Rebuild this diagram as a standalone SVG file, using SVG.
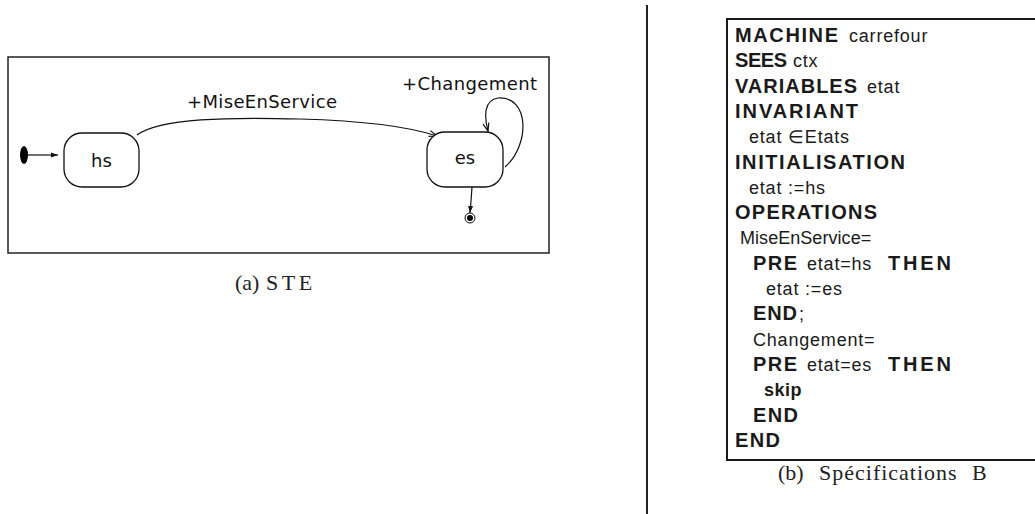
<svg xmlns="http://www.w3.org/2000/svg" width="1035" height="514" viewBox="0 0 1035 514">
<style>
.frame{fill:none;stroke:#222;stroke-width:1.5}
.node{fill:#fff;stroke:#111;stroke-width:1.3}
.lbl{font-family:"DejaVu Sans",sans-serif;font-size:18px;fill:#111}
.edge{fill:none;stroke:#111;stroke-width:1.2}
.cap{font-family:"Liberation Serif",serif;font-size:22px;fill:#222}
.kw{font-family:"Liberation Sans",sans-serif;font-size:20px;font-weight:bold;fill:#1a1a1a}
.id{font-family:"Liberation Sans",sans-serif;font-size:18px;letter-spacing:0.8px;fill:#1a1a1a}
.kws{font-family:"Liberation Sans",sans-serif;font-size:18px;font-weight:bold;letter-spacing:0.5px;fill:#1a1a1a}
</style>
<defs>
<marker id="arr" markerWidth="10" markerHeight="8" refX="9" refY="4" orient="auto" markerUnits="userSpaceOnUse">
<path d="M1,1 L9,4 L1,7" fill="none" stroke="#111" stroke-width="1.2"/>
</marker>
<marker id="arrs" markerWidth="8" markerHeight="6" refX="7" refY="3" orient="auto" markerUnits="userSpaceOnUse">
<path d="M0,0.5 L7,3 L0,5.5 Z" fill="#111"/>
</marker>
</defs>
<rect width="1035" height="514" fill="#fff"/>

<!-- (a) STE -->
<rect class="frame" x="8" y="57" width="541" height="196"/>
<g id="connectors">
<line class="edge" x1="28" y1="155" x2="58" y2="155" marker-end="url(#arrs)"/>
<path class="edge" d="M137,135 C160,118 230,117 300,119 C370,121 410,127 437,136" marker-end="url(#arr)"/>
<path class="edge" d="M505,167 C530,145 530,96 498,98 C484,100 484,116 488,131" marker-end="url(#arr)"/>
<path class="edge" d="M472,187 L471,201 L470,213" stroke-width="0.9" marker-end="url(#arrs)"/>
</g>
<g id="initial"><ellipse cx="24" cy="155" rx="4" ry="9" fill="#000"/></g>
<g id="hs">
<rect class="node" x="64" y="133" width="75" height="54" rx="18" ry="18"/>
<text class="lbl" x="101.5" y="167" text-anchor="middle">hs</text>
</g>
<g id="es">
<rect class="node" x="427" y="132" width="76" height="55" rx="18" ry="18"/>
<text class="lbl" x="465" y="164" text-anchor="middle">es</text>
</g>
<g id="final">
<circle cx="470" cy="218" r="5" fill="#fff" stroke="#111" stroke-width="1"/>
<circle cx="470" cy="218" r="3" fill="#000"/>
</g>
<text class="lbl" x="187" y="108" textLength="150" lengthAdjust="spacing">+MiseEnService</text>
<text class="lbl" x="402" y="90" textLength="135" lengthAdjust="spacing">+Changement</text>
<text class="cap" y="290"><tspan x="235">(a)</tspan><tspan x="266" letter-spacing="3.5">STE</tspan></text>

<!-- separator -->
<line x1="647" y1="5" x2="647" y2="514" stroke="#231f20" stroke-width="2"/>

<!-- (b) Spécifications B -->
<path d="M1040,19 L727,19 L727,460 L1040,460" fill="none" stroke="#1a1a1a" stroke-width="2"/>
<g id="spec">
<text class="kw" x="735" y="42" textLength="103" lengthAdjust="spacing">MACHINE</text><text class="id" x="849" y="42">carrefour</text>
<text class="kw" x="735" y="67.3" textLength="52" lengthAdjust="spacing">SEES</text><text class="id" x="793" y="67.3">ctx</text>
<text class="kw" x="735" y="92.6" textLength="122" lengthAdjust="spacing">VARIABLES</text><text class="id" x="867" y="92.6">etat</text>
<text class="kw" x="735" y="117.9" textLength="123" lengthAdjust="spacing">INVARIANT</text>
<text class="id" x="749" y="143.2">etat ∈Etats</text>
<text class="kw" x="735" y="168.5" textLength="170" lengthAdjust="spacing">INITIALISATION</text>
<text class="id" x="749" y="193.8">etat :=hs</text>
<text class="kw" x="735" y="219.1" textLength="142" lengthAdjust="spacing">OPERATIONS</text>
<text class="id" x="740" y="244.4" textLength="132" lengthAdjust="spacing">MiseEnService=</text>
<text class="kw" x="753" y="269.7" textLength="44" lengthAdjust="spacing">PRE</text><text class="id" x="807" y="269.7">etat=hs</text><text class="kw" x="888" y="269.7" textLength="63" lengthAdjust="spacing">THEN</text>
<text class="id" x="766" y="295">etat :=es</text>
<text class="kw" x="753" y="320.3" textLength="44" lengthAdjust="spacing">END</text><text class="id" x="799" y="320.3">;</text>
<text class="id" x="753" y="345.6">Changement=</text>
<text class="kw" x="753" y="370.9" textLength="44" lengthAdjust="spacing">PRE</text><text class="id" x="807" y="370.9">etat=es</text><text class="kw" x="888" y="370.9" textLength="63" lengthAdjust="spacing">THEN</text>
<text class="kws" x="764" y="396.2">skip</text>
<text class="kw" x="753" y="421.5" textLength="45" lengthAdjust="spacing">END</text>
<text class="kw" x="735" y="446.8" textLength="45" lengthAdjust="spacing">END</text>
</g>
<text class="cap" y="480"><tspan x="778">(b)</tspan><tspan x="819" letter-spacing="1">Spécifications</tspan><tspan x="972">B</tspan></text>
</svg>
